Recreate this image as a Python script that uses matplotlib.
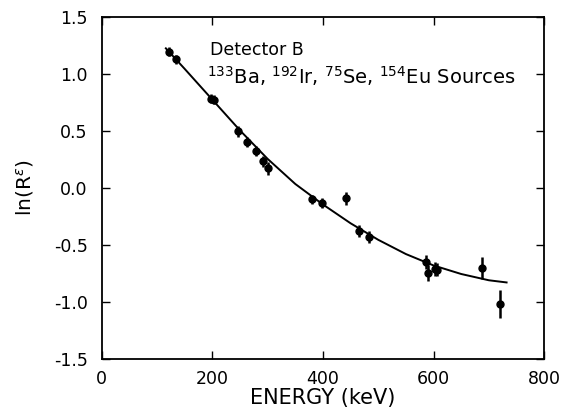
import matplotlib
matplotlib.use("Agg")
import matplotlib.pyplot as plt

# measured ln(R*eff) points for detector B
energy_kev = [121.6, 135, 197.5, 203.5, 246.9, 262.6, 278.3, 292, 300,
              380.6, 399, 441, 465, 483, 586, 590, 602, 607, 687, 720]
ln_reff = [1.197, 1.13, 0.785, 0.776, 0.497, 0.403, 0.326, 0.235, 0.173,
           -0.098, -0.133, -0.091, -0.377, -0.43, -0.651, -0.745, -0.709,
           -0.715, -0.704, -1.018]
ln_err = [0.04, 0.04, 0.04, 0.04, 0.045, 0.045, 0.045, 0.05, 0.06,
          0.04, 0.045, 0.06, 0.05, 0.05, 0.06, 0.07, 0.06, 0.06, 0.095, 0.125]

# fitted curve
fit_kev = [116, 150, 200, 250, 300, 350, 400, 450, 500, 550, 600, 650, 700, 732]
fit_ln = [1.226, 1.046, 0.776, 0.506, 0.256, 0.036, -0.144, -0.309, -0.454,
          -0.579, -0.679, -0.754, -0.809, -0.828]

x_ticks = [0, 200, 400, 600, 800]
y_ticks = [-1.5, -1.0, -0.5, 0.0, 0.5, 1.0, 1.5]
y_tick_labels = ['-1.5', '-1.0', '-0.5', '0.0', '0.5', '1.0', '1.5']

plt.rcParams['font.family'] = ['DejaVu Sans']
plt.rcParams['mathtext.fontset'] = 'dejavusans'

fig = plt.figure(figsize=(5.63, 4.17), dpi=100)
ax = fig.add_axes([0.1806, 0.139, 0.786, 0.820])

ax.plot(fit_kev, fit_ln, color='black', linewidth=1.4, zorder=2)
ax.errorbar(energy_kev, ln_reff, yerr=ln_err, fmt='o', color='black',
            markersize=5, elinewidth=1.8, capsize=0, zorder=3)

ax.set_xlim(0, 800)
ax.set_ylim(-1.5, 1.5)
ax.set_xticks(x_ticks)
ax.set_xticklabels([str(v) for v in x_ticks])
ax.set_yticks(y_ticks)
ax.set_yticklabels(y_tick_labels)
ax.tick_params(direction='in', length=6, width=1, labelsize=12.5,
               top=True, right=True)
ax.tick_params(axis='x', pad=8)
ax.tick_params(axis='y', pad=10)
for sp in ax.spines.values():
    sp.set_linewidth(1.3)

ax.set_xlabel('ENERGY (keV)', fontsize=15)
ax.set_ylabel(r'ln(R$^{\epsilon}$)', fontsize=14.5)
ax.xaxis.set_label_coords(0.5, -0.085)
ax.yaxis.set_label_coords(-0.148, 0.5)

ax.text(196, 1.165, 'Detector B', fontsize=12.5, va='baseline')
ax.text(190, 0.917, r'$^{133}$Ba, $^{192}$Ir, $^{75}$Se, $^{154}$Eu Sources',
        fontsize=14, va='baseline')

fig.savefig('out.png', dpi=100)
